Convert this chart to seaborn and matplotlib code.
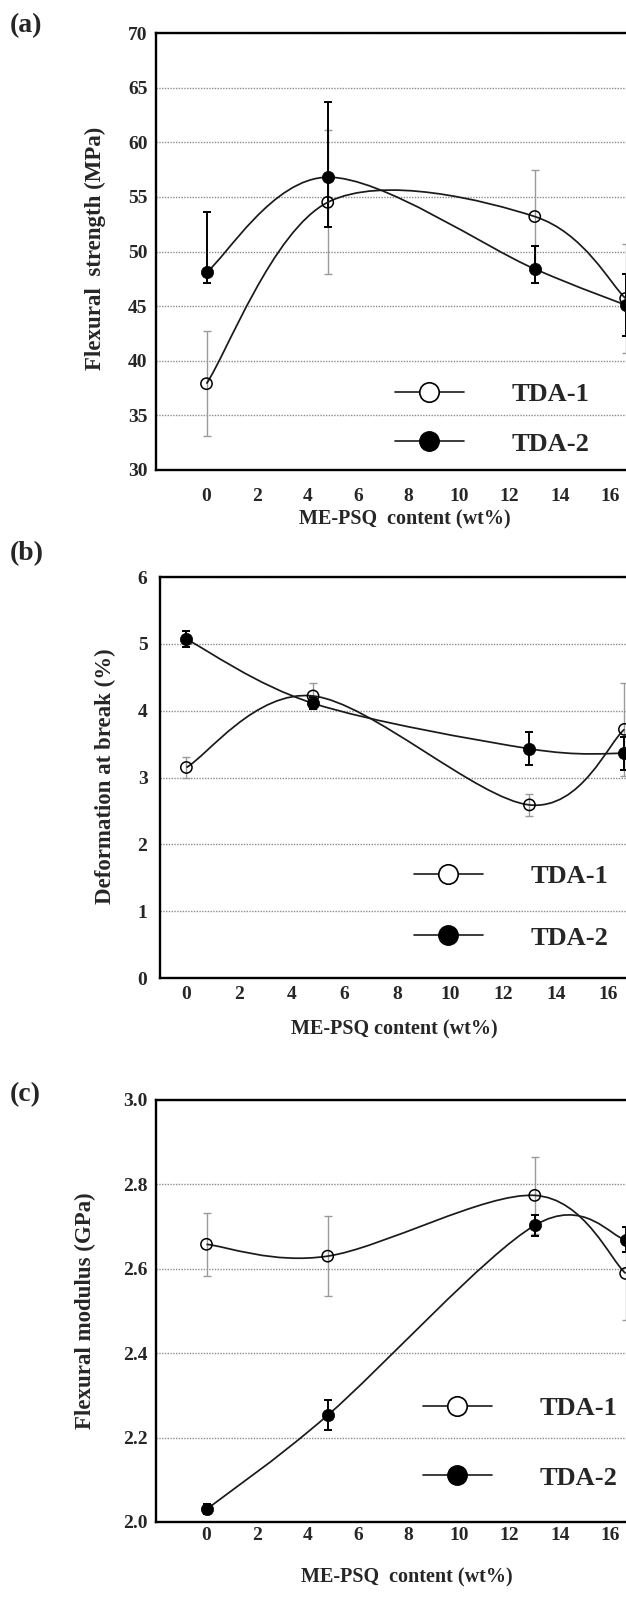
import matplotlib
matplotlib.use("Agg")
import matplotlib.pyplot as plt
from matplotlib.path import Path
from matplotlib.patches import PathPatch
from matplotlib.lines import Line2D
import matplotlib.ticker as mtick
import seaborn as sns

# ME-PSQ content (wt%)
content = [0, 4.8, 13, 16.6]

# (a) flexural strength (MPa)
strength_tda1 = [37.9, 54.5, 53.2, 45.7]
strength_tda1_err = [4.8, 6.6, 4.3, 5.0]
strength_tda2 = [48.1, 56.8, 48.4, 45.1]
strength_tda2_lo = [1.0, 4.6, 1.3, 2.8]
strength_tda2_hi = [5.5, 6.9, 2.1, 2.8]

# (b) deformation at break (%)
deform_tda1 = [3.15, 4.22, 2.59, 3.72]
deform_tda1_err = [0.16, 0.20, 0.16, 0.70]
deform_tda2 = [5.07, 4.11, 3.43, 3.36]
deform_tda2_err = [0.12, 0.09, 0.25, 0.25]

# (c) flexural modulus (GPa)
modulus_tda1 = [2.658, 2.630, 2.774, 2.589]
modulus_tda1_err = [0.075, 0.095, 0.092, 0.11]
modulus_tda2 = [2.030, 2.253, 2.703, 2.669]
modulus_tda2_err = [0.012, 0.035, 0.025, 0.03]

series_names = ["TDA-1", "TDA-2"]

sns.set_style("white")
plt.rcParams["font.family"] = ["Liberation Serif", "DejaVu Serif"]
plt.rcParams["font.weight"] = "bold"
plt.rcParams["axes.labelweight"] = "bold"

W, H = 626, 1604
fig = plt.figure(figsize=(W / 100, H / 100), dpi=100)


def smooth_path(xs, ys):
    # excel-like smoothed line (cubic bezier through the points)
    pts = list(zip(xs, ys))
    n = len(pts)
    verts = [pts[0]]
    codes = [Path.MOVETO]
    for i in range(n - 1):
        p0 = pts[max(i - 1, 0)]
        p1 = pts[i]
        p2 = pts[i + 1]
        p3 = pts[min(i + 2, n - 1)]
        c1 = (p1[0] + (p2[0] - p0[0]) / 6, p1[1] + (p2[1] - p0[1]) / 6)
        c2 = (p2[0] - (p3[0] - p1[0]) / 6, p2[1] - (p3[1] - p1[1]) / 6)
        verts += [c1, c2, p2]
        codes += [Path.CURVE4] * 3
    return Path(verts, codes)


def make_axes(left, top, right, bottom):
    return fig.add_axes([left / W, 1 - bottom / H, (right - left) / W, (bottom - top) / H])


def draw_panel(ax, y1, e1, y2, e2, xlim, ylim, ystep, yfmt, xpad, ypad):
    ax.errorbar(content, y1, yerr=e1, fmt="none", ecolor="#9a9a9a",
                elinewidth=1.0, capsize=3.2, capthick=1.0, zorder=2)
    ax.errorbar(content, y2, yerr=e2, fmt="none", ecolor="black",
                elinewidth=1.4, capsize=3.2, capthick=1.4, zorder=2)
    for ys in (y1, y2):
        ax.add_patch(PathPatch(smooth_path(content, ys), fill=False,
                               edgecolor="#1a1a1a", linewidth=1.25, zorder=3))
    sns.scatterplot(x=content, y=y1, ax=ax, s=66, marker="o", facecolor="none",
                    edgecolor="black", linewidth=1.1, zorder=4)
    sns.scatterplot(x=content, y=y2, ax=ax, s=78, marker="o", color="black",
                    edgecolor="black", linewidth=0.5, zorder=4)

    ax.set_xlim(*xlim)
    ax.set_ylim(*ylim)
    ax.yaxis.set_major_locator(mtick.MultipleLocator(ystep))
    ax.yaxis.set_major_formatter(mtick.FormatStrFormatter(yfmt))
    ax.set_xticks([t for t in range(0, 17, 2)])
    ax.tick_params(axis="x", direction="in", length=5, width=1.4, labelsize=14, pad=xpad)
    ax.tick_params(axis="y", length=0, labelsize=14, pad=ypad)
    for lab in ax.get_xticklabels() + ax.get_yticklabels():
        lab.set_fontweight("bold")

    ax.yaxis.grid(True, linestyle=(0, (1, 1)), color="#8c8c8c", linewidth=1.0)
    ax.xaxis.grid(False)
    ax.set_axisbelow(True)
    for sp in ax.spines.values():
        sp.set_color("black")
        sp.set_linewidth(1.7)


def add_legend(ax, x0, ycen, spacing):
    handles = [
        Line2D([], [], color="#1a1a1a", lw=1.2, marker="o", ms=14,
               mfc="white", mec="black", mew=1.2),
        Line2D([], [], color="#1a1a1a", lw=1.2, marker="o", ms=14,
               mfc="black", mec="black"),
    ]
    ax.legend(handles, series_names, loc="center left",
              bbox_to_anchor=(x0 / W, 1 - ycen / H), bbox_transform=fig.transFigure,
              frameon=False, borderpad=0, borderaxespad=0, handlelength=2.6,
              handletextpad=1.8, labelspacing=spacing,
              prop={"size": 19, "weight": "bold"})


# panel (a)
ax1 = make_axes(156, 33, 661, 470)
draw_panel(ax1, strength_tda1, strength_tda1_err, strength_tda2,
           [strength_tda2_lo, strength_tda2_hi], (-2, 18), (30, 70), 5, "%d", 13, 6)
ax1.set_ylabel("Flexural  strength (MPa)", fontsize=16.5, fontweight="bold")
ax1.yaxis.set_label_coords(106 / W, 1 - 248 / H, transform=fig.transFigure)
ax1.set_xlabel("ME-PSQ  content (wt%)", fontsize=14.5, fontweight="bold")
ax1.xaxis.set_label_coords(405 / W, 1 - 509 / H, transform=fig.transFigure)
add_legend(ax1, 395, 419, 1.0)

# panel (b)
ax2 = make_axes(160, 577, 635, 978)
draw_panel(ax2, deform_tda1, deform_tda1_err, deform_tda2, deform_tda2_err,
           (-1, 17), (0, 6), 1, "%d", 5.5, 9)
ax2.set_ylabel("Deformation at break (%)", fontsize=16.5, fontweight="bold")
ax2.yaxis.set_label_coords(116 / W, 1 - 776 / H, transform=fig.transFigure)
ax2.set_xlabel("ME-PSQ content (wt%)", fontsize=14.5, fontweight="bold")
ax2.xaxis.set_label_coords(394 / W, 1 - 1019 / H, transform=fig.transFigure)
add_legend(ax2, 414, 907, 1.45)

# panel (c)
ax3 = make_axes(156, 1100, 661, 1522)
draw_panel(ax3, modulus_tda1, modulus_tda1_err, modulus_tda2, modulus_tda2_err,
           (-2, 18), (2.0, 3.0), 0.2, "%.1f", 3.5, 6)
ax3.set_ylabel("Flexural modulus (GPa)", fontsize=16.5, fontweight="bold")
ax3.yaxis.set_label_coords(96 / W, 1 - 1311 / H, transform=fig.transFigure)
ax3.set_xlabel("ME-PSQ  content (wt%)", fontsize=14.5, fontweight="bold")
ax3.xaxis.set_label_coords(407 / W, 1 - 1567 / H, transform=fig.transFigure)
add_legend(ax3, 423, 1443, 1.75)

# panel letters
for lab, yc in (("(a)", 26), ("(b)", 554), ("(c)", 1095)):
    fig.text(10 / W, 1 - yc / H, lab, fontsize=20, fontweight="bold",
             ha="left", va="center")

fig.savefig("out.png", dpi=100)
